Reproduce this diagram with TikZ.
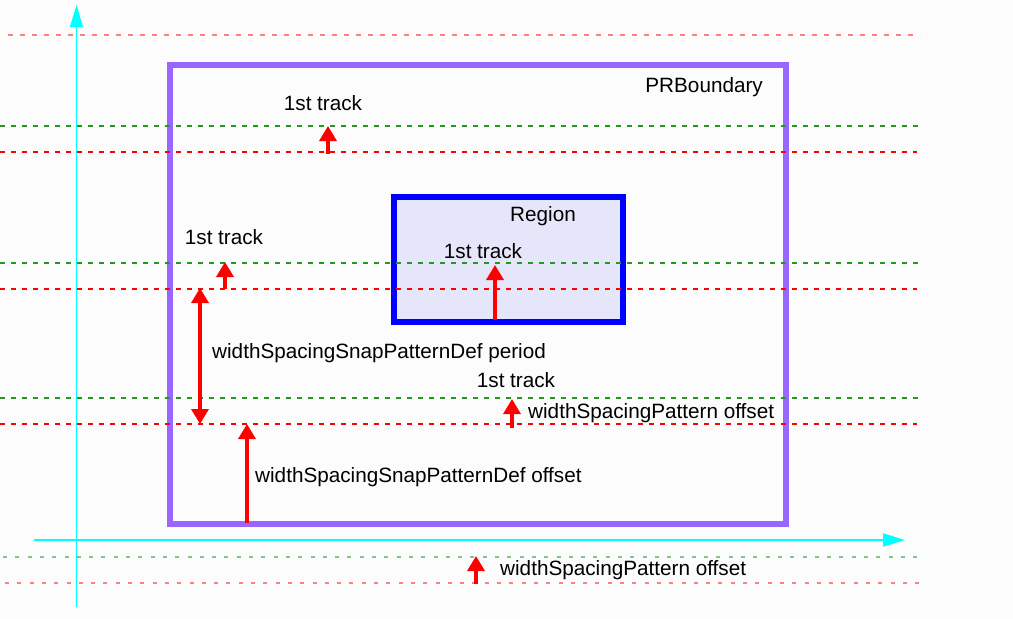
\documentclass[tikz,border=0pt]{standalone}
\usepackage{fontspec}
\setmainfont{Liberation Sans}
\usetikzlibrary{arrows.meta}
\definecolor{prpurple}{HTML}{9966FF}
\definecolor{regblue}{HTML}{0000FF}
\definecolor{regfill}{HTML}{E6E6FA}
\definecolor{trkgreen}{HTML}{229922}
\definecolor{lightgreen}{HTML}{88C488}
\definecolor{pinkred}{HTML}{FF8080}
\definecolor{axcyan}{HTML}{00FFFF}
\tikzset{
  lbl/.style={inner sep=0pt, font=\fontsize{20.7}{24}\selectfont, text=black},
  redline/.style={red, line width=1.3pt, dash pattern=on 5pt off 6pt},
  greenline/.style={trkgreen, line width=1.3pt, dash pattern=on 5pt off 6pt},
  pinkline/.style={pinkred, line width=1.4pt, dash pattern=on 5pt off 7pt},
  dotred/.style={pinkred, line width=2pt, dash pattern=on 4pt off 8.3pt},
  dotgreen/.style={lightgreen, line width=2pt, dash pattern=on 4pt off 8.3pt},
  redarrow/.style={red, line width=3.5pt, -{Triangle[width=17pt,length=15pt]}},
  reddouble/.style={red, line width=3.5pt, {Triangle[width=17pt,length=15pt]}-{Triangle[width=17pt,length=15pt]}},
  axis/.style={axcyan, -{Triangle[width=13pt,length=22pt]}},
  boundary/.style={prpurple, line width=6pt},
  regionbox/.style={regblue, line width=6pt, fill=regfill},
}
\begin{document}
\begin{tikzpicture}[x=1pt,y=-1pt]
\fill[white!99!black] (0,0) rectangle (1013,619);
\useasboundingbox (0,0) rectangle (1013,619);

% rectangles
\draw[boundary] (170,65) rectangle (786,524);
\draw[regionbox] (394,197) rectangle (622.5,321.5);

% axes
\coordinate (vb) at (76.5,607);
\coordinate (vt) at (76.5,5);
\coordinate (hl) at (34,540);
\coordinate (hr) at (905,540);
\draw[axis, line width=1pt] (vb) -- (vt);
\draw[axis, line width=2pt] (hl) -- (hr);

% dashed lines
\coordinate (p1l) at (8,35);   \coordinate (p1r) at (920,35);
\coordinate (g1l) at (0,126);  \coordinate (g1r) at (918,126);
\coordinate (r1l) at (0,152);  \coordinate (r1r) at (917,152);
\coordinate (g2l) at (0,263);  \coordinate (g2r) at (918,263);
\coordinate (r2l) at (0,289);  \coordinate (r2r) at (917,289);
\coordinate (g3l) at (0,398);  \coordinate (g3r) at (918,398);
\coordinate (r3l) at (0,424);  \coordinate (r3r) at (917,424);
\coordinate (g4l) at (3,557);  \coordinate (g4r) at (920,557);
\coordinate (r4l) at (5,583);  \coordinate (r4r) at (920,583);
\draw[pinkline] (p1l) -- (p1r);
\draw[greenline] (g1l) -- (g1r);
\draw[redline] (r1l) -- (r1r);
\draw[greenline] (g2l) -- (g2r);
\draw[redline] (r2l) -- (r2r);
\draw[greenline] (g3l) -- (g3r);
\draw[redline] (r3l) -- (r3r);
\draw[dotgreen] (g4l) -- (g4r);
\draw[dotred] (r4l) -- (r4r);

% arrows
\coordinate (a1b) at (328,154); \coordinate (a1t) at (328,126);
\coordinate (a2b) at (225,289); \coordinate (a2t) at (225,262);
\coordinate (a3b) at (495,320); \coordinate (a3t) at (495,265);
\coordinate (a4b) at (512,428); \coordinate (a4t) at (512,399);
\coordinate (a5b) at (247,523); \coordinate (a5t) at (247,424);
\coordinate (a6b) at (476,584); \coordinate (a6t) at (476,556);
\coordinate (d1) at (200,288);  \coordinate (d2) at (200,424);
\draw[redarrow] (a1b) -- (a1t);
\draw[redarrow] (a2b) -- (a2t);
\draw[redarrow] (a3b) -- (a3t);
\draw[redarrow] (a4b) -- (a4t);
\draw[redarrow] (a5b) -- (a5t);
\draw[redarrow] (a6b) -- (a6t);
\draw[reddouble] (d1) -- (d2);

% labels
\node[lbl, anchor=base east] (prb) at (763,92) {PRBoundary};
\node[lbl, anchor=base] (reg) at (543,221) {Region};
\node[lbl, anchor=base] (t1) at (323,110) {1st track};
\node[lbl, anchor=base] (t2) at (224,244) {1st track};
\node[lbl, anchor=base] (t3) at (483,258) {1st track};
\node[lbl, anchor=base] (t4) at (516,387) {1st track};
\node[lbl, anchor=base west] (per) at (212,358) {widthSpacingSnapPatternDef period};
\node[lbl, anchor=base west] (wso1) at (528,418) {widthSpacingPattern offset};
\node[lbl, anchor=base west] (sno) at (255,482) {widthSpacingSnapPatternDef offset};
\node[lbl, anchor=base west] (wso2) at (500,575) {widthSpacingPattern offset};
\end{tikzpicture}
\end{document}
